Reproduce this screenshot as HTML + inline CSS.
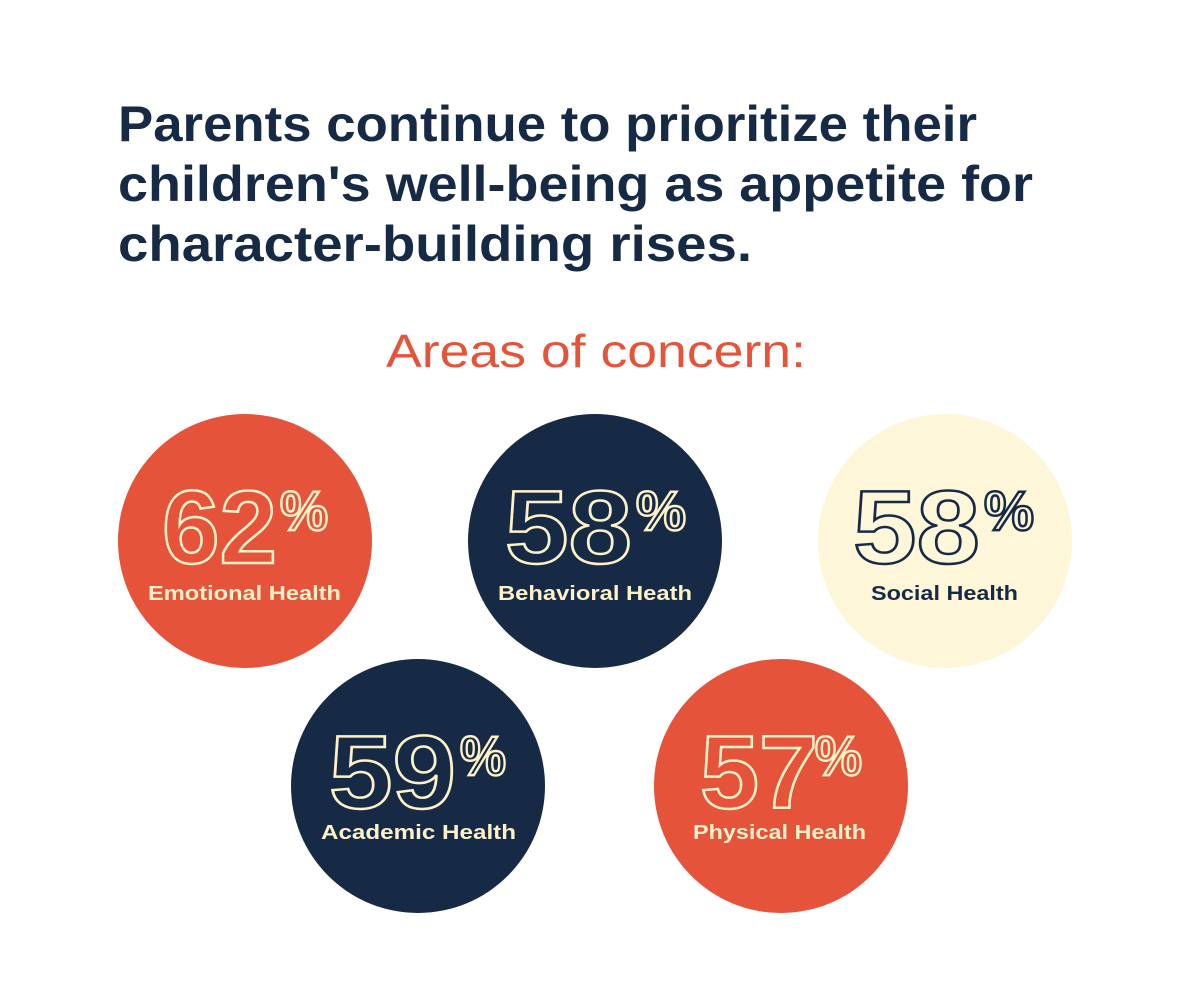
<!DOCTYPE html>
<html><head><meta charset="utf-8"><style>
html,body{margin:0;padding:0;background:#fff;}
svg{display:block;}
text{font-family:"Liberation Sans",sans-serif;}
</style></head><body>
<svg width="1192" height="1000" viewBox="0 0 1192 1000" xmlns="http://www.w3.org/2000/svg">
<rect width="1192" height="1000" fill="#fff"/>
<g fill="#172A45" font-weight="bold" font-size="50">
<text x="118" y="141" textLength="859" lengthAdjust="spacingAndGlyphs">Parents continue to prioritize their</text>
<text x="118" y="201" textLength="915" lengthAdjust="spacingAndGlyphs">children's well-being as appetite for</text>
<text x="118" y="261" textLength="634" lengthAdjust="spacingAndGlyphs">character-building rises.</text>
</g>
<text x="386" y="367" fill="#E4533A" font-size="46" textLength="420" lengthAdjust="spacingAndGlyphs">Areas of concern:</text>

<circle cx="245" cy="541" r="127" fill="#E4533A"/>
<circle cx="595" cy="541" r="127" fill="#172A45"/>
<circle cx="945" cy="541" r="127" fill="#FDF6D8"/>
<circle cx="418" cy="786" r="127" fill="#172A45"/>
<circle cx="781" cy="786" r="127" fill="#E4533A"/>

<g font-weight="bold" fill="none" stroke-width="2.5">
<g stroke="#FDF1C8">
<text x="162" y="563" font-size="104" textLength="115" lengthAdjust="spacingAndGlyphs">62</text>
<text x="280" y="530" font-size="56" textLength="48" lengthAdjust="spacingAndGlyphs">%</text>
<text x="505" y="563" font-size="104" textLength="127" lengthAdjust="spacingAndGlyphs">58</text>
<text x="636" y="530" font-size="56" textLength="50" lengthAdjust="spacingAndGlyphs">%</text>
<text x="329" y="808" font-size="104" textLength="127" lengthAdjust="spacingAndGlyphs">59</text>
<text x="460" y="775" font-size="56" textLength="46" lengthAdjust="spacingAndGlyphs">%</text>
<text x="700" y="808" font-size="104" textLength="118" lengthAdjust="spacingAndGlyphs">57</text>
<text x="815" y="775" font-size="56" textLength="47" lengthAdjust="spacingAndGlyphs">%</text>
</g>
<g stroke="#172A45">
<text x="853" y="563" font-size="104" textLength="127" lengthAdjust="spacingAndGlyphs">58</text>
<text x="984" y="530" font-size="56" textLength="50" lengthAdjust="spacingAndGlyphs">%</text>
</g>
</g>

<g font-weight="bold" font-size="20">
<text x="148" y="600" fill="#FDF1C8" textLength="193" lengthAdjust="spacingAndGlyphs">Emotional Health</text>
<text x="498" y="600" fill="#FDF1C8" textLength="194" lengthAdjust="spacingAndGlyphs">Behavioral Heath</text>
<text x="871" y="600" fill="#172A45" textLength="147" lengthAdjust="spacingAndGlyphs">Social Health</text>
<text x="321" y="839" fill="#FDF1C8" textLength="195" lengthAdjust="spacingAndGlyphs">Academic Health</text>
<text x="693" y="839" fill="#FDF1C8" textLength="173" lengthAdjust="spacingAndGlyphs">Physical Health</text>
</g>
</svg>
</body></html>
